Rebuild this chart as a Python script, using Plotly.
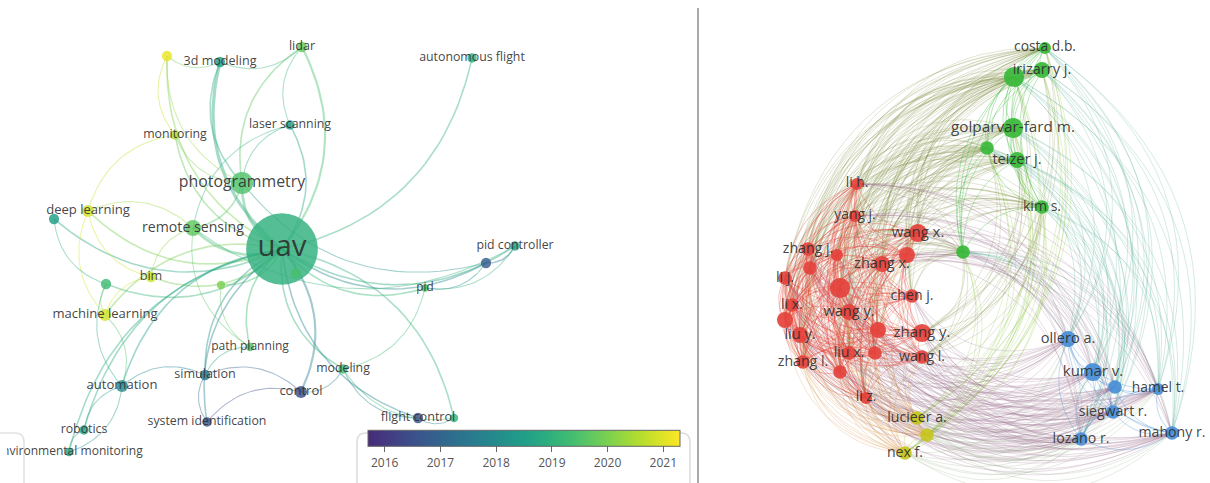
import numpy as np
import plotly.graph_objects as go
from plotly.colors import sample_colorscale

W, H = 1210, 483

# ================= LEFT: keyword co-occurrence overlay map =================
kw_labels = ["uav", "photogrammetry", "remote sensing", "3d modeling", "lidar", "",
             "laser scanning", "monitoring", "autonomous flight", "deep learning", "",
             "bim", "", "", "", "machine learning", "path planning", "simulation",
             "automation", "control", "modeling", "system identification", "robotics",
             "environmental monitoring", "flight control", "", "pid", "pid controller", ""]
# map (layout) coordinates of each keyword
kw_x = [282, 242, 193, 220, 302, 167, 290, 175, 472, 88, 54, 151, 106, 221, 296, 105, 250,
        205, 122, 301, 343, 207, 84, 69, 418, 454, 425, 515, 486]
kw_y = [249, 183, 228, 62, 47, 56, 125, 135, 58, 211, 219, 277, 284, 285, 273, 315, 347,
        375, 386, 392, 369, 422, 430, 452, 418, 418, 288, 246, 263]
kw_year = [2019.0, 2019.5, 2019.7, 2018.5, 2019.8, 2021.1, 2018.4, 2020.5, 2019.0, 2020.9,
           2018.5, 2020.8, 2019.3, 2020.0, 2019.4, 2020.9, 2019.5, 2017.4, 2018.0, 2016.4,
           2019.2, 2016.6, 2018.7, 2018.6, 2016.5, 2019.1, 2019.4, 2018.5, 2016.8]
kw_occ = [128, 24, 15, 8, 8, 8, 7, 7, 7, 10, 8, 8, 8, 6, 8, 10, 6, 8, 10, 10, 7, 7, 7, 6,
          8, 6, 5, 7, 8]
# (source, target, link strength)
kw_links = [(3, 0, 5), (1, 0, 4), (2, 0, 4), (0, 4, 3), (0, 6, 2), (5, 0, 2), (7, 0, 2),
            (0, 8, 2), (9, 0, 2), (10, 0, 2), (11, 0, 2), (12, 0, 2), (13, 0, 2), (14, 0, 1),
            (0, 15, 2), (0, 16, 2), (0, 17, 2), (0, 18, 2), (19, 0, 3), (0, 20, 2), (0, 21, 2),
            (0, 22, 2), (0, 23, 2), (0, 24, 2), (25, 0, 2), (0, 26, 2), (0, 27, 2), (0, 28, 2),
            (3, 1, 2), (4, 1, 2), (6, 1, 1), (7, 1, 1), (2, 1, 2), (3, 4, 1), (5, 3, 1),
            (5, 7, 1), (5, 1, 1), (7, 9, 1), (9, 15, 1), (9, 11, 1), (11, 15, 1), (12, 15, 1),
            (2, 9, 1), (2, 11, 1), (6, 2, 1), (4, 6, 1), (17, 18, 1), (19, 17, 1), (17, 21, 1),
            (19, 21, 1), (18, 22, 1), (22, 23, 1), (18, 15, 1), (23, 18, 1), (16, 17, 1),
            (19, 20, 1), (20, 24, 1), (24, 25, 1), (20, 25, 1), (20, 26, 1), (28, 27, 2),
            (26, 27, 1), (26, 28, 1), (2, 27, 1), (1, 28, 1), (12, 18, 1), (13, 16, 1),
            (2, 16, 1), (10, 12, 1)]
year_min, year_max = 2015.7, 2021.3
colorbar_ticks = [2016, 2017, 2018, 2019, 2020, 2021]

# ================= RIGHT: author co-authorship network =================
au_labels = ["costa d.b.", "", "irizarry j.", "golparvar-fard m.", "", "teizer j.", "kim s.", "",
             "li h.", "yang j.", "wang x.", "", "zhang j.", "", "zhang x.", "", "li j.", "",
             "chen j.", "li x.", "wang y.", "", "liu y.", "", "zhang y.", "liu x.", "", "wang l.",
             "zhang l.", "", "li z.",
             "lucieer a.", "", "nex f.",
             "ollero a.", "kumar v.", "", "hamel t.", "siegwart r.", "lozano r.", "mahony r."]
au_x = [1045, 1014, 1042, 1013, 987, 1017, 1042, 963,
        857, 855, 918, 907, 808, 837, 882, 810, 785, 840, 912, 792, 849, 785, 800, 878, 922,
        849, 875, 922, 803, 840, 866,
        917, 927, 905,
        1068, 1093, 1115, 1158, 1113, 1081, 1172]
au_y = [48, 77, 70, 128, 148, 160, 207, 252,
        184, 216, 233, 255, 249, 255, 264, 268, 278, 288, 296, 305, 312, 320, 335, 330, 333,
        353, 353, 357, 362, 372, 398,
        418, 435, 453,
        339, 372, 387, 389, 412, 439, 433]
au_cluster = [2] * 8 + [1] * 23 + [4] * 3 + [3] * 7
au_docs = [10, 21, 15, 21, 12, 15, 12, 12,
           10, 10, 18, 15, 12, 10, 15, 12, 12, 21, 12, 12, 15, 15, 15, 15, 18, 12, 12, 12, 12,
           12, 10,
           12, 12, 12,
           15, 18, 12, 10, 12, 12, 12]
cluster_rgb = {1: (228, 66, 60), 2: (56, 184, 56), 3: (72, 142, 214), 4: (198, 198, 30)}
cluster_link_opacity = {"same": 0.34, "cross": 0.22}

# ---------------------------------------------------------------------------
TEXT_COLOR = "rgba(45,45,45,0.9)"
FONT = "Open Sans"
# VOSviewer-like viridis (starts at indigo rather than deep purple)
vos_scale_pos = np.linspace(0.12, 1.0, 15)
vos_colors = sample_colorscale("Viridis", list(vos_scale_pos))
VOS_SCALE = [[i / (len(vos_colors) - 1), c] for i, c in enumerate(vos_colors)]


def arc(p, q, bend, center=None, n=26):
    p = np.asarray(p, float)
    q = np.asarray(q, float)
    d = q - p
    L = float(np.hypot(d[0], d[1]))
    perp = np.array([-d[1], d[0]]) / L
    if center is not None:
        m = (p + q) / 2
        if np.dot(perp, m - center) < 0:
            perp = -perp
    ctrl = (p + q) / 2 + perp * 2 * bend * L
    t = np.linspace(0, 1, n)[:, None]
    pts = (1 - t) ** 2 * p + 2 * (1 - t) * t * ctrl + t ** 2 * q
    return list(pts[:, 0]), list(pts[:, 1])


def vcolor(year, alpha):
    t = (year - year_min) / (year_max - year_min)
    t = min(max(t, 0.0), 1.0)
    c = sample_colorscale(VOS_SCALE, [t], colortype="tuple")[0]
    r, g, b = [int(round(v * 255)) if v <= 1 else int(v) for v in c]
    return f"rgba({r},{g},{b},{alpha})"


fig = go.Figure()

# ---- left links
for a, b, s in kw_links:
    xs, ys = arc((kw_x[a], kw_y[a]), (kw_x[b], kw_y[b]), 0.16)
    fig.add_trace(go.Scatter(x=xs, y=ys, mode="lines", hoverinfo="skip", showlegend=False,
                             line=dict(color=vcolor((kw_year[a] + kw_year[b]) / 2, 0.42),
                                       width=0.5 + 0.55 * s)))

# ---- right links
n_au = len(au_labels)
cen = np.array([np.mean(au_x), np.mean(au_y)])
groups = {}
for i in range(n_au):
    for j in range(i + 1, n_au):
        key = tuple(sorted((au_cluster[i], au_cluster[j])))
        if key[0] == key[1]:
            xs, ys = arc((au_x[i], au_y[i]), (au_x[j], au_y[j]), 0.15, n=18)
        else:
            xs, ys = arc((au_x[i], au_y[i]), (au_x[j], au_y[j]), 0.19, center=cen, n=22)
        g = groups.setdefault(key, ([], []))
        g[0].extend(xs + [None])
        g[1].extend(ys + [None])
order = sorted(groups.keys(), key=lambda k: (k[0] == k[1], k == (1, 1)))
for key in order:
    c1, c2 = cluster_rgb[key[0]], cluster_rgb[key[1]]
    w2 = 0.6 if key == (1, 2) else 0.5   # red-green links drawn closer to green
    rgb = tuple(int((1 - w2) * u + w2 * v) for u, v in zip(c1, c2))
    al = cluster_link_opacity["same" if key[0] == key[1] else "cross"]
    xs, ys = groups[key]
    fig.add_trace(go.Scatter(x=xs, y=ys, mode="lines", hoverinfo="skip", showlegend=False,
                             line=dict(color=f"rgba({rgb[0]},{rgb[1]},{rgb[2]},{al})", width=1)))

# ---- left nodes
kw_r = [1.2 * o ** 0.7 for o in kw_occ]
fig.add_trace(go.Scatter(
    x=kw_x, y=kw_y, mode="markers", hoverinfo="skip", showlegend=False,
    marker=dict(size=[2 * r for r in kw_r], color=kw_year, coloraxis="coloraxis",
                opacity=0.82, line=dict(width=0))))
fig.add_trace(go.Scatter(
    x=kw_x, y=kw_y, mode="text", text=kw_labels, textposition="middle center",
    hoverinfo="skip", showlegend=False, cliponaxis=True,
    textfont=dict(family=FONT, color=TEXT_COLOR,
                  size=[12.5 + 0.55 * (r - 5) for r in kw_r])))

# ---- right nodes
au_r = [1.2 * d ** 0.7 for d in au_docs]
fig.add_trace(go.Scatter(
    x=au_x, y=au_y, mode="markers", hoverinfo="skip", showlegend=False,
    marker=dict(size=[2 * r for r in au_r],
                color=[f"rgb{cluster_rgb[c]}" for c in au_cluster],
                opacity=0.92, line=dict(width=0))))
fig.add_trace(go.Scatter(
    x=au_x, y=au_y, mode="text", text=au_labels, textposition="middle center",
    hoverinfo="skip", showlegend=False,
    textfont=dict(family=FONT, color=TEXT_COLOR,
                  size=[13.5 + 0.35 * (r - 5) for r in au_r])))

# ---- decorations: colour legend box, partial box, separator
shapes = [
    dict(type="path", xref="x", yref="y", layer="above",
         path="M 366,433 L 681,433 Q 690,433 690,442 L 690,490 L 357,490 L 357,442 Q 357,433 366,433 Z",
         fillcolor="white", line=dict(color="#dcdcdc", width=1.5)),
    dict(type="path", xref="x", yref="y", layer="below",
         path="M -5,433 L 15,433 Q 24,433 24,442 L 24,490 L -5,490 Z",
         fillcolor="rgba(0,0,0,0)", line=dict(color="#e2e2e2", width=1.5)),
    dict(type="rect", xref="x", yref="y", layer="above", x0=-2, x1=7, y0=440, y1=466,
         fillcolor="white", line=dict(width=0)),
    dict(type="line", xref="x", yref="y", layer="above", x0=698, x1=698, y0=8, y1=490,
         line=dict(color="#8c8c8c", width=1.5)),
]

fig.update_layout(
    width=W, height=H, margin=dict(l=0, r=0, t=0, b=0, autoexpand=False),
    paper_bgcolor="white", plot_bgcolor="white", shapes=shapes,
    xaxis=dict(range=[0, W], visible=False, fixedrange=True),
    yaxis=dict(range=[H, 0], visible=False, fixedrange=True),
    coloraxis=dict(
        colorscale=VOS_SCALE, cmin=year_min, cmax=year_max,
        colorbar=dict(orientation="h", x=524 / W, xanchor="center", y=1 - 451 / H,
                      yanchor="middle", len=312, lenmode="pixels", thickness=16,
                      xpad=0, ypad=0, outlinewidth=1, outlinecolor="#666",
                      tickvals=colorbar_ticks, ticks="outside", ticklen=6, tickcolor="#666",
                      tickfont=dict(family=FONT, size=12, color="#555"))),
)

fig.write_html("out.html", config={"displayModeBar": False},
               post_script="document.body.style.margin='0';document.body.style.overflow='hidden';")
